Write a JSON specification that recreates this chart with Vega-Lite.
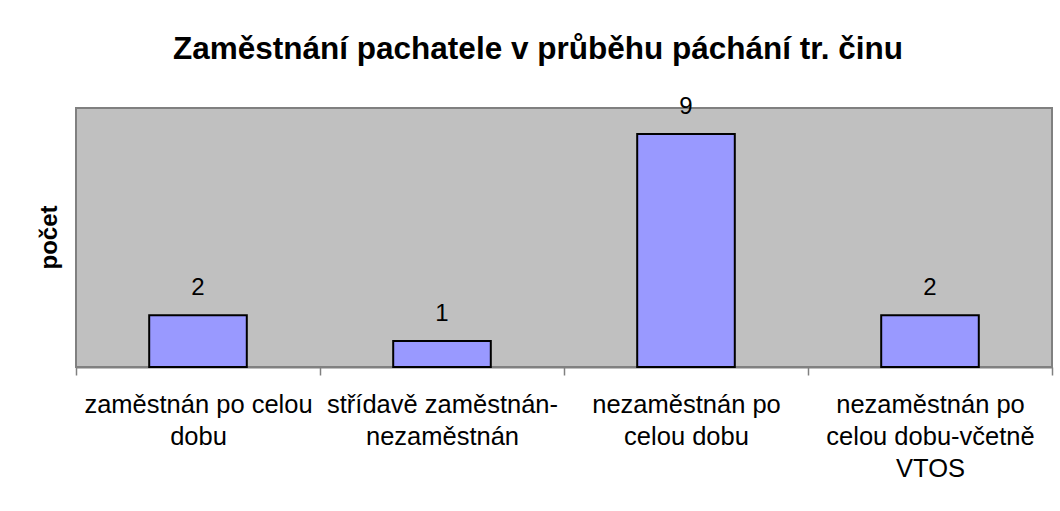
{
  "$schema": "https://vega.github.io/schema/vega-lite/v6.json",
  "autosize": "none",
  "width": 976,
  "height": 259,
  "padding": {"left": 76, "top": 108, "right": 8, "bottom": 144},
  "background": "white",
  "title": {
    "text": "Zaměstnání pachatele v průběhu páchání tr. činu",
    "font": "Liberation Sans",
    "fontSize": 31.5,
    "fontWeight": "bold",
    "color": "black",
    "anchor": "middle",
    "baseline": "alphabetic",
    "offset": 4,
    "dx": -26
  },
  "data": {
    "values": [
      {"kategorie": "zaměstnán po celou dobu", "pocet": 2},
      {"kategorie": "střídavě zaměstnán-nezaměstnán", "pocet": 1},
      {"kategorie": "nezaměstnán po celou dobu", "pocet": 9},
      {"kategorie": "nezaměstnán po celou dobu-včetně VTOS", "pocet": 2}
    ]
  },
  "encoding": {
    "x": {
      "field": "kategorie",
      "type": "nominal",
      "sort": null,
      "scale": {"paddingInner": 0, "paddingOuter": 0},
      "axis": {
        "title": null,
        "labelAngle": 0,
        "labelFont": "Liberation Sans",
        "labelFontSize": 25.5,
        "labelColor": "black",
        "labelLineHeight": 32,
        "labelBaseline": "alphabetic",
        "labelPadding": 37,
        "labelLimit": 400,
        "labelOverlap": false,
        "labelExpr": "datum.value == 'zaměstnán po celou dobu' ? ['zaměstnán po celou', 'dobu'] : datum.value == 'střídavě zaměstnán-nezaměstnán' ? ['střídavě zaměstnán-', 'nezaměstnán'] : datum.value == 'nezaměstnán po celou dobu' ? ['nezaměstnán po', 'celou dobu'] : datum.value == 'nezaměstnán po celou dobu-včetně VTOS' ? ['nezaměstnán po', 'celou dobu-včetně', 'VTOS'] : ''",
        "tickBand": "extent",
        "tickSize": 8,
        "tickColor": "#808080",
        "tickWidth": 1.5,
        "domainColor": "#808080",
        "domainWidth": 2,
        "grid": false
      }
    },
    "y": {
      "field": "pocet",
      "type": "quantitative",
      "scale": {"domain": [0, 10], "nice": false},
      "axis": {
        "title": "počet",
        "titleFont": "Liberation Sans",
        "titleFontSize": 24,
        "titleFontWeight": "bold",
        "titleColor": "black",
        "titleAngle": -90,
        "titleBaseline": "middle",
        "titleAlign": "center",
        "titleX": -27,
        "titleY": 129,
        "labels": false,
        "ticks": false,
        "domain": false,
        "grid": false
      }
    }
  },
  "layer": [
    {
      "mark": {"type": "bar", "width": {"band": 0.4}, "fill": "#9999FF", "stroke": "black", "strokeWidth": 2}
    },
    {
      "mark": {"type": "text", "font": "Liberation Sans", "fontSize": 24, "color": "black", "baseline": "alphabetic", "dy": -20},
      "encoding": {"text": {"field": "pocet", "type": "quantitative"}}
    }
  ],
  "config": {
    "view": {"fill": "#C0C0C0", "stroke": "#808080", "strokeWidth": 2}
  }
}
